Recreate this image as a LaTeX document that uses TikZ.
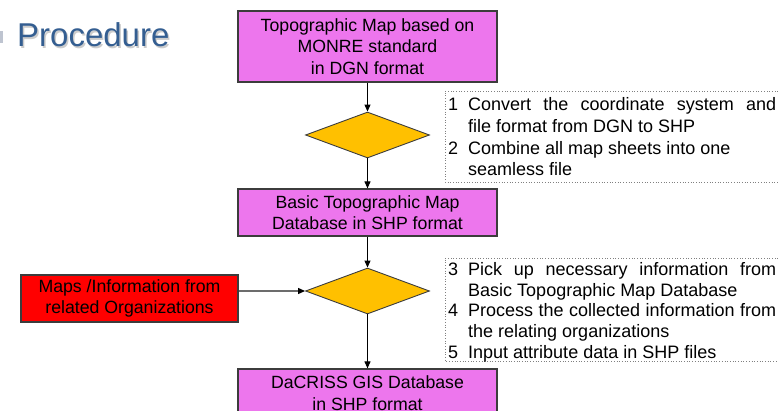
\documentclass[tikz,border=0pt]{standalone}
\usepackage{fontspec}
\setmainfont{Liberation Sans}
\usetikzlibrary{shapes.geometric,arrows.meta}
\definecolor{mag}{RGB}{237,118,237}
\definecolor{gold}{RGB}{255,192,0}
\definecolor{redbox}{RGB}{255,0,0}
\definecolor{titleblue}{RGB}{52,94,145}
\definecolor{bord}{RGB}{60,60,60}
\newcommand\numitem[2]{\par\hangindent=20pt\hangafter=1\noindent\makebox[20pt][l]{#1}#2\par}
\tikzset{
  mbox/.style={draw=bord, line width=1.2pt, fill=mag, minimum width=259pt, align=center, inner sep=0pt, font=\fontsize{17.7}{21.5}\selectfont},
  rbox/.style={mbox, fill=redbox, minimum width=217pt, minimum height=47pt},
  dia/.style={diamond, draw=bord, line width=0.9pt, fill=gold, minimum width=124pt, minimum height=46pt, inner sep=0pt},
  flow/.style={line width=1pt, -{Triangle[length=7pt,width=6pt]}},
  note/.style={anchor=north west, inner sep=0pt, text width=328pt, align=justify, font=\fontsize{18}{21.7}\selectfont},
  notebox/.style={draw=gray, dotted, line width=0.7pt}
}
\begin{document}
\begin{tikzpicture}[x=1pt,y=-1pt]
\useasboundingbox (0,0) rectangle (778,411);
% title
\fill[fill={rgb,255:red,190;green,196;blue,208}] (0,31) rectangle (2.5,43);
\node[anchor=base west, inner sep=0pt, text=gray!40, font=\fontsize{33}{36}\selectfont] (titleshadow) at (18.5,48.5) {Procedure};
\node[anchor=base west, inner sep=0pt, text=titleblue, font=\fontsize{33}{36}\selectfont] (title) at (17,47) {Procedure};
% main flow
\node[mbox, minimum height=71pt] (b1) at (367.5,46.5) {Topographic Map based on\\MONRE standard\\in DGN format};
\node[dia] (d1) at (367.5,135) {};
\node[mbox, minimum height=47pt] (b2) at (367.5,212.5) {Basic Topographic Map\\Database in SHP format};
\node[dia] (d2) at (367.5,291) {};
\node[mbox, minimum height=48pt] (b3) at (367.5,393) {DaCRISS GIS Database\\in SHP format};
\node[rbox] (red) at (129.5,298.5) {Maps /Information from\\related Organizations};
\draw[flow] (b1) -- (d1);
\draw[flow] (d1) -- (b2);
\draw[flow] (b2) -- (d2);
\draw[flow] (d2) -- (b3);
\draw[line width=1.2pt, draw=gray!85!black, -{Triangle[length=7pt,width=6pt,color=black]}] (red.east |- d2.west) -- (d2.west);
% note boxes
\draw[notebox] (778,91) -- (445,91) -- (445,182) -- (778,182);
\draw[notebox] (778,258) -- (445,258) -- (445,361) -- (778,361);
\node[note] (n1) at (448,89) {%
\numitem{1}{Convert the coordinate system and\linebreak file format from DGN to SHP}%
\numitem{2}{Combine all map sheets into one\newline seamless file}};
\node[note, font=\fontsize{18}{20.6}\selectfont] (n2) at (448,255) {%
\numitem{3}{Pick up necessary information from\linebreak Basic Topographic Map Database}%
\numitem{4}{Process the collected information from\linebreak the relating organizations}%
\numitem{5}{Input attribute data in SHP files}};
\end{tikzpicture}
\end{document}
